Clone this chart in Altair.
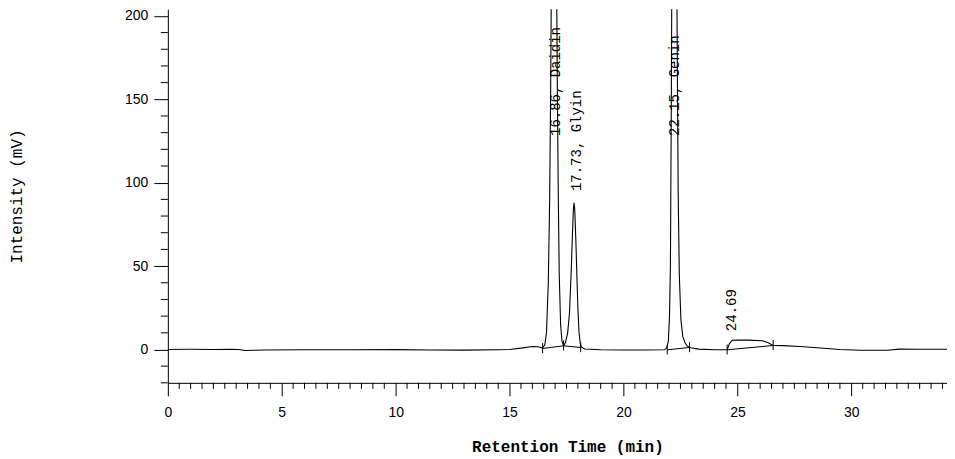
import altair as alt
import pandas as pd

# Chromatogram trace (retention time in min, intensity in mV)
trace_time = [0.0, 1.0, 2.0, 2.8, 3.1, 3.4, 3.7, 4.2, 6.0, 8.0, 10.0, 11.5, 13.0, 14.5,
              15.0, 15.5, 16.0, 16.25, 16.45,
              16.55, 16.62, 16.70, 16.76, 16.80, 16.85, 16.90, 16.95, 17.00, 17.05,
              17.10, 17.14, 17.18, 17.24, 17.30, 17.37,
              17.45, 17.55, 17.63, 17.70, 17.75, 17.80, 17.83, 17.86, 17.91, 17.96,
              18.00, 18.05, 18.10, 18.15, 18.30,
              19.0, 20.0, 21.0, 21.80,
              21.90, 21.97, 22.02, 22.06, 22.10, 22.14, 22.18, 22.22, 22.26, 22.30,
              22.35, 22.40, 22.45, 22.52, 22.60, 22.70, 22.80, 22.95,
              23.3, 24.0, 24.55, 24.65, 24.77, 25.0, 25.5, 26.1, 26.35, 26.57,
              27.0, 27.75, 28.5, 29.5, 30.4, 31.6, 32.1, 33.0, 34.2]
trace_mv = [0.0, 0.1, 0.0, 0.1, 0.0, -0.6, -0.5, -0.3, -0.2, -0.2, -0.1, -0.3, -0.4, -0.2,
            0.0, 0.8, 1.8, 1.6, 0.8,
            3.0, 10.0, 40.0, 90.0, 150.0, 250.0, 340.0, 380.0, 340.0, 250.0,
            150.0, 90.0, 45.0, 15.0, 5.0, 2.2,
            4.0, 10.0, 22.0, 45.0, 65.0, 84.0, 88.0, 84.0, 65.0, 42.0,
            24.0, 10.0, 4.0, 1.5, 0.3,
            -0.2, -0.3, -0.3, -0.2,
            1.0, 5.0, 20.0, 50.0, 150.0, 280.0, 420.0, 460.0, 420.0, 320.0,
            200.0, 95.0, 45.0, 18.0, 8.0, 4.0, 2.0, 1.0,
            0.2, -0.2, -0.2, 3.5, 5.5, 5.6, 5.6, 5.2, 4.0, 2.4,
            2.3, 1.8, 1.0, 0.0, -0.5, -0.5, 0.2, 0.1, 0.1]

# Integration baselines drawn under the peaks
base_seg = ["Daidin", "Daidin", "Glyin", "Glyin", "Genin", "Genin", "p4", "p4"]
base_time = [16.45, 17.37, 17.37, 18.12, 21.92, 22.90, 24.55, 26.57]
base_mv = [0.6, 2.2, 2.2, 1.2, -0.2, 1.2, -0.2, 2.4]

# Integration start / end markers
marker_time = [16.45, 17.37, 18.12, 21.92, 22.90, 24.55, 26.57]
marker_mv = [0.6, 2.2, 1.2, -0.2, 1.2, -0.2, 2.4]

# Peak labels
label_text = ["16.86, Daidin", "17.73, Glyin", "22.15, Genin", "24.69"]
label_time = [17.05, 17.97, 22.27, 24.77]
label_mv = [128.0, 95.0, 128.0, 11.0]

# Axis ticks
x_major = [0, 5, 10, 15, 20, 25, 30]
x_minor = [i * 0.5 for i in range(0, 69) if (i * 0.5) % 5 != 0]
y_major = [0, 50, 100, 150, 200]
y_minor = [v for v in range(-20, 201, 10) if v % 50 != 0]

X_MIN, X_MAX = 0.0, 34.2
Y_MIN, Y_MAX = -20.0, 204.0
W, H = 780, 374
px_per_min = W / (X_MAX - X_MIN)
px_per_mv = H / (Y_MAX - Y_MIN)

trace = pd.DataFrame({"t": trace_time, "mv": trace_mv})
base = pd.DataFrame({"seg": base_seg, "t": base_time, "mv": base_mv})
markers = pd.DataFrame({"t": marker_time, "lo": [m - 2.8 for m in marker_mv],
                        "hi": [m + 3.2 for m in marker_mv]})
labels = pd.DataFrame({"text": label_text, "t": label_time, "mv": label_mv})
xminor = pd.DataFrame({"t": x_minor, "y0": Y_MIN, "y1": Y_MIN - 6 / px_per_mv})
yminor = pd.DataFrame({"v": y_minor, "x0": X_MIN, "x1": X_MIN - 7 / px_per_min})

xscale = alt.Scale(domain=[X_MIN, X_MAX], nice=False, zero=False)
yscale = alt.Scale(domain=[Y_MIN, Y_MAX], nice=False, zero=False)

xaxis = alt.Axis(
    values=x_major, tickSize=13,
    labelFlush=False, labelOverlap=False, grid=False,
    labelFont="Liberation Sans", labelFontSize=14, labelColor="black", labelPadding=10,
    tickColor="black", domainColor="black", tickWidth=1, domainWidth=1,
    title="Retention Time (min)", titleFont="Liberation Mono", titleFontSize=16,
    titleFontWeight="bold", titleColor="black", titleX=400, titleY=64,
    titleBaseline="middle", titleAnchor="start", titleAlign="center",
)
yaxis = alt.Axis(
    values=y_major, tickSize=14,
    labelFlush=False, labelOverlap=False, grid=False,
    labelFont="Liberation Sans", labelFontSize=14, labelColor="black", labelPadding=6,
    tickColor="black", domainColor="black", tickWidth=1, domainWidth=1,
    title="Intensity (mV)", titleFont="Liberation Mono", titleFontSize=16,
    titleFontWeight="normal", titleColor="black", titleX=-151, titleY=187,
    titleBaseline="middle", titleAlign="center", titleAnchor="start",
)

line = alt.Chart(trace).mark_line(color="black", strokeWidth=1.1, clip=True).encode(
    x=alt.X("t:Q", scale=xscale, axis=xaxis),
    y=alt.Y("mv:Q", scale=yscale, axis=yaxis),
    order="t:Q",
)
baselines = alt.Chart(base).mark_line(color="black", strokeWidth=1, clip=True).encode(
    x="t:Q", y="mv:Q", detail="seg:N",
)
ticks = alt.Chart(markers).mark_rule(color="black", strokeWidth=1, clip=True).encode(
    x="t:Q", y="lo:Q", y2="hi:Q",
)
xminor_rules = alt.Chart(xminor).mark_rule(color="black", strokeWidth=1).encode(
    x="t:Q", y="y0:Q", y2="y1:Q",
)
yminor_rules = alt.Chart(yminor).mark_rule(color="black", strokeWidth=1).encode(
    y="v:Q", x="x0:Q", x2="x1:Q",
)
text = alt.Chart(labels).mark_text(
    angle=270, align="left", baseline="middle", font="Liberation Mono",
    fontSize=14, color="black",
).encode(x="t:Q", y="mv:Q", text="text:N")

chart = alt.layer(line, baselines, ticks, xminor_rules, yminor_rules, text).properties(
    width=W, height=H,
    autosize=alt.AutoSizeParams(type="none"),
    padding={"left": 160, "top": 1, "right": 0, "bottom": 76},
    background="white",
).configure_view(stroke=None)

chart.save("out.html", embed_options={"renderer": "svg", "actions": False})
